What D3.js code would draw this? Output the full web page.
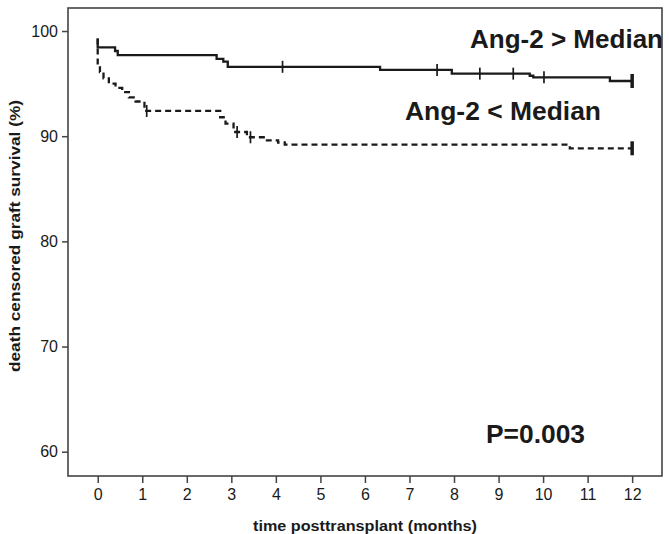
<!DOCTYPE html>
<html>
<head>
<meta charset="utf-8">
<script src="https://cdn.jsdelivr.net/npm/d3@7"></script>
<style>
  html, body { margin: 0; padding: 0; background: #fff; }
  svg { display: block; }
  text { font-family: "Liberation Sans", Arial, sans-serif; fill: #1a1a1a; }
</style>
</head>
<body>
<svg id="chart" width="669" height="534"></svg>
<script>
// ---- data ----
const xTicks = [0, 1, 2, 3, 4, 5, 6, 7, 8, 9, 10, 11, 12];
const yTicks = [60, 70, 80, 90, 100];

// Ang-2 > Median (solid) : step points (time in months, survival %)
const timeHigh = [0, 0, 0.39, 0.45, 2.67, 2.82, 2.92, 6.34, 7.95, 9.70, 9.78, 11.5, 12];
const survHigh = [99.3, 98.45, 98.1, 97.7, 97.35, 97.1, 96.6, 96.3, 95.95, 95.75, 95.6, 95.25, 95.25];
const censorHigh = [4.15, 7.62, 8.58, 9.33, 10.02];

// Ang-2 < Median (dashed)
const timeLow = [0, 0, 0.05, 0.13, 0.25, 0.4, 0.55, 0.7, 0.85, 1.05, 2.75, 2.87, 3.05, 3.35, 3.8, 4.05, 4.2, 10.6, 12];
const survLow = [99.3, 96.8, 96.1, 95.5, 95.0, 94.6, 94.2, 93.7, 93.3, 92.4, 91.8, 91.2, 90.4, 89.9, 89.6, 89.4, 89.2, 88.85, 88.85];
const censorLow = [1.1, 3.13, 3.43];

const endTime = 12;
const labelHigh = "Ang-2 > Median";
const labelLow = "Ang-2 < Median";
const pText = "P=0.003";
const xTitle = "time posttransplant (months)";
const yTitle = "death censored graft survival (%)";

// ---- layout ----
const plot = { left: 68, top: 8, right: 662, bottom: 476 };
const svg = d3.select("#chart");

const x = d3.scaleLinear().domain([-0.667, 12.67]).range([plot.left, plot.right]);
const y = d3.scaleLinear().domain([57.69, 102.19]).range([plot.bottom, plot.top]);

const ink = "#1a1a1a";

// frame
svg.append("rect")
  .attr("x", plot.left).attr("y", plot.top)
  .attr("width", plot.right - plot.left).attr("height", plot.bottom - plot.top)
  .attr("fill", "none").attr("stroke", "#444").attr("stroke-width", 1.6);

// x axis
const xAxis = d3.axisBottom(x).tickValues(xTicks).tickSize(7).tickPadding(6).tickFormat(d3.format("d"));
const gx = svg.append("g").attr("transform", `translate(0,${plot.bottom})`).call(xAxis);
gx.select(".domain").remove();
gx.selectAll("line").attr("stroke", "#444").attr("stroke-width", 1.5);
gx.selectAll("text").style("font-size", "16px").attr("fill", "#222")
  .style("font-family", "'Liberation Sans', Arial, sans-serif");

// y axis
const yAxis = d3.axisLeft(y).tickValues(yTicks).tickSize(6).tickPadding(4).tickFormat(d3.format("d"));
const gy = svg.append("g").attr("transform", `translate(${plot.left},0)`).call(yAxis);
gy.select(".domain").remove();
gy.selectAll("line").attr("stroke", "#444").attr("stroke-width", 1.5);
gy.selectAll("text").style("font-size", "16px").attr("fill", "#222")
  .style("font-family", "'Liberation Sans', Arial, sans-serif");

// axis titles
svg.append("text")
  .attr("x", 365).attr("y", 531)
  .attr("text-anchor", "middle")
  .attr("textLength", 224).attr("lengthAdjust", "spacingAndGlyphs")
  .style("font-size", "14px").style("font-weight", "bold")
  .text(xTitle);

svg.append("text")
  .attr("transform", "translate(20,236) rotate(-90)")
  .attr("text-anchor", "middle")
  .attr("textLength", 272).attr("lengthAdjust", "spacingAndGlyphs")
  .style("font-size", "14px").style("font-weight", "bold")
  .text(yTitle);

// step curves
const line = d3.line().x(d => x(d[0])).y(d => y(d[1])).curve(d3.curveStepAfter);
const ptsHigh = timeHigh.map((t, i) => [t, survHigh[i]]);
const ptsLow = timeLow.map((t, i) => [t, survLow[i]]);

svg.append("path").datum(ptsHigh)
  .attr("d", line).attr("fill", "none")
  .attr("stroke", ink).attr("stroke-width", 2.3);

svg.append("path").datum(ptsLow)
  .attr("d", line).attr("fill", "none")
  .attr("stroke", ink).attr("stroke-width", 2.3)
  .attr("stroke-dasharray", "6,4");

// survival at time t from step data
function survAt(times, surv, t) {
  let v = surv[0];
  for (let i = 0; i < times.length; i++) { if (times[i] <= t) v = surv[i]; }
  return v;
}

function censorMarks(times, surv, cens, half, w) {
  svg.append("g").selectAll("line").data(cens).join("line")
    .attr("x1", d => x(d)).attr("x2", d => x(d))
    .attr("y1", d => y(survAt(times, surv, d)) - half)
    .attr("y2", d => y(survAt(times, surv, d)) + half)
    .attr("stroke", ink).attr("stroke-width", w);
}
censorMarks(timeHigh, survHigh, censorHigh, 6, 1.7);
censorMarks(timeLow, survLow, censorLow, 6, 1.7);
censorMarks(timeHigh, survHigh, [endTime], 7, 3.5);
censorMarks(timeLow, survLow, [endTime], 7, 3.5);

// annotations
svg.append("text").attr("x", 470).attr("y", 48)
  .attr("textLength", 193).attr("lengthAdjust", "spacingAndGlyphs")
  .style("font-size", "25px").style("font-weight", "bold").attr("fill", "#000")
  .text(labelHigh);
svg.append("text").attr("x", 405).attr("y", 120)
  .attr("textLength", 196).attr("lengthAdjust", "spacingAndGlyphs")
  .style("font-size", "25px").style("font-weight", "bold").attr("fill", "#000")
  .text(labelLow);
svg.append("text").attr("x", 486).attr("y", 443)
  .attr("textLength", 99).attr("lengthAdjust", "spacingAndGlyphs")
  .style("font-size", "25px").style("font-weight", "bold").attr("fill", "#000")
  .text(pText);
</script>
</body>
</html>
